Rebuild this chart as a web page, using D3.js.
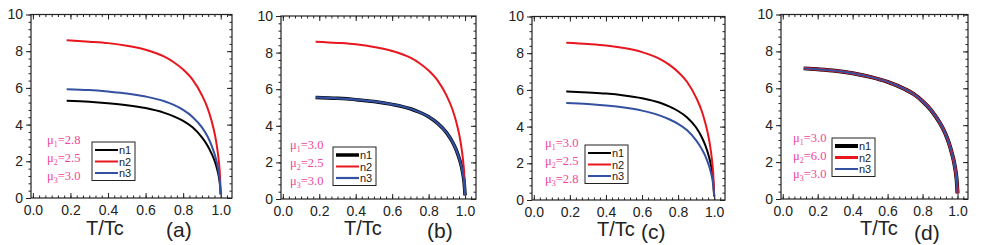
<html>
<head>
<meta charset="utf-8">
<title>n vs T/Tc</title>
<style>
body{margin:0;background:#fff;}
text{font-family:Arial,"Liberation Sans",sans-serif;}
.mu{font-family:"Liberation Serif","Times New Roman",serif;fill:#f0479a;}
</style>
<script src="https://d3js.org/d3.v7.min.js"></script>
</head>
<body>
<div id="container"></div>
<script>
const width = 981, height = 245;

// labels
const panelNames = ["(a)", "(b)", "(c)", "(d)"];
const seriesNames = ["n1", "n2", "n3"];
const seriesColors = ["#000000", "#e8161e", "#3450a0"];
const muValues = [["2.8", "2.5", "3.0"], ["3.0", "2.5", "3.0"], ["3.0", "2.5", "2.8"], ["3.0", "6.0", "3.0"]];
const xTicks = [0, 0.2, 0.4, 0.6, 0.8, 1.0];
const yTicks = [0, 2, 4, 6, 8, 10];

// T/Tc sample points
const tABC = [0.18, 0.3, 0.4, 0.5, 0.6, 0.7, 0.75, 0.8, 0.85, 0.9, 0.93, 0.95, 0.97, 0.98, 0.99, 0.995, 1.0];
const tD = [0.12, 0.2, 0.3, 0.4, 0.5, 0.6, 0.7, 0.75, 0.8, 0.85, 0.9, 0.93, 0.95, 0.97, 0.98, 0.99, 0.995, 1.0];

// panel (a)
const n1A = [5.3, 5.25, 5.17, 5.06, 4.9, 4.64, 4.45, 4.2, 3.85, 3.3, 2.85, 2.45, 1.95, 1.6, 1.15, 0.8, 0.2];
const n2A = [8.6, 8.52, 8.44, 8.3, 8.08, 7.7, 7.4, 7.0, 6.45, 5.6, 4.9, 4.25, 3.4, 2.8, 2.0, 1.4, 0.2];
const n3A = [5.93, 5.88, 5.8, 5.7, 5.53, 5.27, 5.07, 4.8, 4.42, 3.85, 3.35, 2.9, 2.3, 1.9, 1.35, 0.95, 0.2];
// panel (b)
const n1B = [5.55, 5.5, 5.43, 5.33, 5.17, 4.93, 4.74, 4.5, 4.13, 3.6, 3.13, 2.72, 2.15, 1.78, 1.27, 0.9, 0.2];
const n2B = [8.6, 8.53, 8.45, 8.31, 8.09, 7.72, 7.42, 7.02, 6.47, 5.62, 4.92, 4.27, 3.42, 2.82, 2.02, 1.42, 0.2];
const n3B = [5.55, 5.5, 5.43, 5.33, 5.17, 4.93, 4.74, 4.5, 4.13, 3.6, 3.13, 2.72, 2.15, 1.78, 1.27, 0.9, 0.2];
// panel (c)
const n1C = [5.92, 5.86, 5.8, 5.7, 5.55, 5.3, 5.1, 4.85, 4.5, 3.95, 3.45, 3.0, 2.4, 2.0, 1.45, 1.0, 0.2];
const n2C = [8.57, 8.5, 8.42, 8.28, 8.06, 7.68, 7.38, 6.98, 6.43, 5.58, 4.88, 4.23, 3.38, 2.78, 1.98, 1.38, 0.2];
const n3C = [5.28, 5.23, 5.15, 5.04, 4.87, 4.6, 4.4, 4.15, 3.8, 3.25, 2.8, 2.42, 1.9, 1.57, 1.12, 0.78, 0.2];
// panel (d)
const n1D = [7.08, 7.03, 6.95, 6.82, 6.62, 6.35, 5.95, 5.68, 5.3, 4.8, 4.1, 3.55, 3.05, 2.4, 2.0, 1.45, 1.05, 0.3];
const n2D = [7.08, 7.03, 6.95, 6.82, 6.62, 6.35, 5.95, 5.68, 5.3, 4.8, 4.1, 3.55, 3.05, 2.4, 2.0, 1.45, 1.05, 0.3];
const n3D = [7.08, 7.03, 6.95, 6.82, 6.62, 6.35, 5.95, 5.68, 5.3, 4.8, 4.1, 3.55, 3.05, 2.4, 2.0, 1.45, 1.05, 0.3];

const panelT = [tABC, tABC, tABC, tD];
const panelSeries = [[n1A, n2A, n3A], [n1B, n2B, n3B], [n1C, n2C, n3C], [n1D, n2D, n3D]];

// layout of each panel (pixels)
const boxes = [
  {x0: 31, x1: 232, y0: 14.5, y1: 198, lw: [2, 2, 2],
   leg: [92, 142], mu: [47, 144], tt: [86, 235], lab: [166, 237]},
  {x0: 281, x1: 476, y0: 16, y1: 199, lw: [3.5, 2, 2.2],
   leg: [333, 147], mu: [290, 149], tt: [344, 235], lab: [427, 238]},
  {x0: 532, x1: 725, y0: 16.5, y1: 200, lw: [2, 2, 2],
   leg: [585, 145], mu: [545, 147], tt: [597, 236], lab: [641, 239]},
  {x0: 781, x1: 968, y0: 14.5, y1: 199, lw: [4, 3, 2],
   leg: [832, 138], mu: [793, 142], tt: [860, 235], lab: [914, 240]}
];

const svg = d3.select("#container")
  .append("svg")
  .attr("width", width)
  .attr("height", height)
  .style("display", "block");

boxes.forEach(function(b, p) {
  const x = d3.scaleLinear().domain([-0.01, 1.06]).range([b.x0, b.x1]);
  const y = d3.scaleLinear().domain([0, 10]).range([b.y1, b.y0]);
  const g = svg.append("g");

  // minor ticks
  const xMinor = d3.range(0, 1.06, 0.2 / 6);
  const yMinor = d3.range(0, 10.001, 0.4);

  g.append("g").attr("transform", "translate(0," + b.y1 + ")")
    .call(d3.axisBottom(x).tickValues(xMinor).tickSize(-2.5).tickFormat(""));
  g.append("g").attr("transform", "translate(0," + b.y0 + ")")
    .call(d3.axisTop(x).tickValues(xMinor).tickSize(-2.5).tickFormat(""));
  g.append("g").attr("transform", "translate(" + b.x0 + ",0)")
    .call(d3.axisLeft(y).tickValues(yMinor).tickSize(2.5).tickFormat(""));
  g.append("g").attr("transform", "translate(" + b.x1 + ",0)")
    .call(d3.axisRight(y).tickValues(yMinor).tickSize(-2.5).tickFormat(""));

  // major ticks + labels
  g.append("g").attr("class", "xax").attr("transform", "translate(0," + b.y1 + ")")
    .call(d3.axisBottom(x).tickValues(xTicks).tickSize(-5).tickPadding(7).tickFormat(d3.format(".1f")));
  g.append("g").attr("transform", "translate(0," + b.y0 + ")")
    .call(d3.axisTop(x).tickValues(xTicks).tickSize(-5).tickFormat(""));
  g.append("g").attr("class", "yax").attr("transform", "translate(" + b.x0 + ",0)")
    .call(d3.axisLeft(y).tickValues(yTicks).tickSize(5).tickPadding(3).tickFormat(d3.format("d")));
  g.append("g").attr("transform", "translate(" + b.x1 + ",0)")
    .call(d3.axisRight(y).tickValues(yTicks).tickSize(-5).tickFormat(""));

  g.selectAll(".domain").remove();
  g.selectAll(".tick line").attr("stroke", "#222").attr("stroke-width", 1);
  g.selectAll(".xax text, .yax text").attr("font-size", 14).attr("fill", "#222")
    .attr("font-family", "Arial, 'Liberation Sans', sans-serif");

  g.append("rect")
    .attr("x", b.x0).attr("y", b.y0)
    .attr("width", b.x1 - b.x0).attr("height", b.y1 - b.y0)
    .attr("fill", "none").attr("stroke", "#222").attr("stroke-width", 1.2);

  // curves
  const line = d3.line()
    .x(function(d) { return x(d[0]); })
    .y(function(d) { return y(d[1]); })
    .curve(d3.curveMonotoneX);
  panelSeries[p].forEach(function(s, k) {
    const pts = panelT[p].map(function(t, i) { return [t, s[i]]; });
    g.append("path").datum(pts)
      .attr("d", line)
      .attr("fill", "none")
      .attr("stroke", seriesColors[k])
      .attr("stroke-width", b.lw[k]);
  });

  // legend
  const lg = g.append("g").attr("transform", "translate(" + b.leg[0] + "," + b.leg[1] + ")");
  lg.append("rect").attr("x", 0).attr("y", 0).attr("width", 43).attr("height", 38.5)
    .attr("fill", "#fff").attr("stroke", "#222").attr("stroke-width", 1);
  seriesNames.forEach(function(n, k) {
    const yy = 8 + k * 11.5;
    lg.append("line").attr("x1", 3).attr("x2", 26).attr("y1", yy).attr("y2", yy)
      .attr("stroke", seriesColors[k]).attr("stroke-width", b.lw[k]);
    lg.append("text").attr("x", 27).attr("y", yy + 4).attr("font-size", 11).attr("fill", "#222").text(n);
  });

  // mu values
  muValues[p].forEach(function(v, k) {
    const t = g.append("text").attr("class", "mu")
      .attr("x", b.mu[0]).attr("y", b.mu[1] + k * 18)
      .attr("font-size", 12.5);
    t.append("tspan").text("\u03bc");
    t.append("tspan").attr("font-size", 8).attr("dy", 3).text(k + 1);
    t.append("tspan").attr("dy", -3).text("=" + v);
  });

  // axis title and panel label
  g.append("text").attr("x", b.tt[0]).attr("y", b.tt[1]).attr("font-size", 20).attr("fill", "#222").text("T/Tc");
  g.append("text").attr("x", b.lab[0]).attr("y", b.lab[1]).attr("font-size", 21).attr("fill", "#222").text(panelNames[p]);
});
</script>
</body>
</html>
